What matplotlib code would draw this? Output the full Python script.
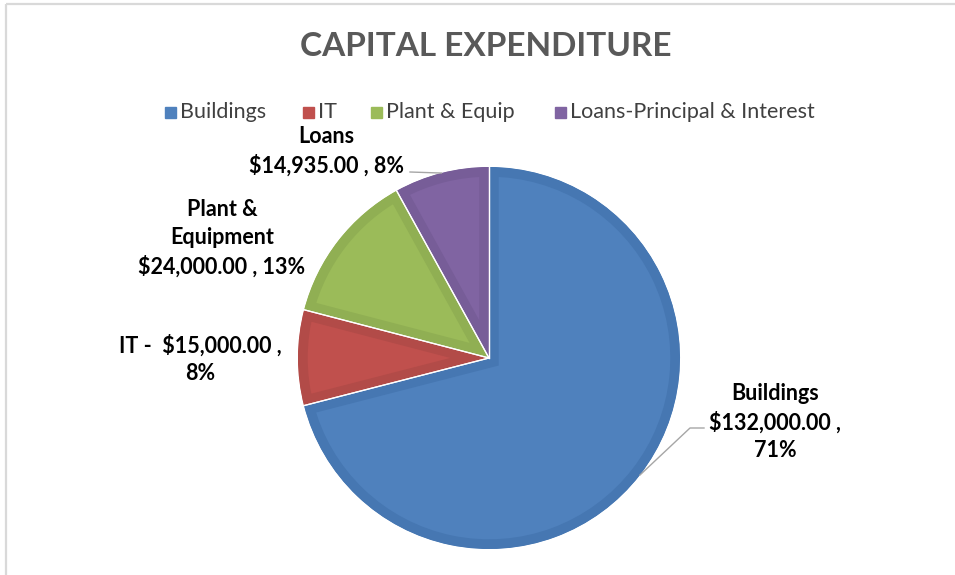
import numpy as np
import matplotlib
matplotlib.use('Agg')
from matplotlib import pyplot as plt
from matplotlib.patches import Rectangle

categories = ['Buildings', 'IT', 'Plant & Equip', 'Loans-Principal & Interest']
values = [132000.00, 15000.00, 24000.00, 14935.00]
percents = ['71%', '8%', '13%', '8%']
face_colors = ['#4F81BD', '#C0504D', '#9BBB59', '#8064A2']
edge_colors = ['#4677B2', '#B24B48', '#90AF53', '#775D98']

plt.rcParams['font.family'] = ['Lato', 'DejaVu Sans']

W, H = 955, 575
fig = plt.figure(figsize=(W / 100, H / 100), dpi=100)
ax = fig.add_axes([0, 0, 1, 1])

cx, cy, r = 489, H - 358, 191
wedges, _ = ax.pie(values, colors=face_colors, startangle=90, counterclock=False,
                   center=(cx, cy), radius=r, frame=True)
ax.set_xlim(0, W)
ax.set_ylim(0, H)
ax.set_aspect('equal')
ax.axis('off')

# darker inner rim on each slice: stroke clipped to the slice itself
for w, ec in zip(wedges, edge_colors):
    w.set_edgecolor(ec)
    w.set_linewidth(14)
    w.set_joinstyle('miter')
    w.set_clip_path(w)
    w.set_clip_on(True)

# thin white gaps between slices
for w in wedges:
    for ang in (w.theta1, w.theta2):
        a = np.deg2rad(ang)
        ax.plot([cx, cx + r * np.cos(a)], [cy, cy + r * np.sin(a)],
                color='white', lw=0.9, zorder=3)

# light gray chart frame (top and left only visible)
ax.plot([6, W], [H - 4, H - 4], color='#D9D9D9', lw=1.6, solid_capstyle='butt', clip_on=False)
ax.plot([6, 6], [0, H - 4], color='#D9D9D9', lw=1.6, solid_capstyle='butt', clip_on=False)

ax.text(486, H - 47, 'CAPITAL EXPENDITURE', ha='center', va='center',
        fontsize=24, fontweight='bold', color='#595959')

# legend
leg_x = [165, 303, 371, 555]
for x, c, name in zip(leg_x, face_colors, categories):
    ax.add_patch(Rectangle((x, H - 118), 11, 11, color=c))
    ax.text(x + 15, H - 112, name, ha='left', va='center', fontsize=15.5,
            color='#404040')

lab_kw = dict(ha='center', va='center', fontsize=15.5, fontweight='bold',
              color='black', linespacing=1.4)
ax.text(775, H - 422, 'Buildings\n$%s ,\n%s' % (f'{values[0]:,.2f}', percents[0]), **lab_kw)
ax.text(200, H - 359, 'IT -  $%s ,\n%s' % (f'{values[1]:,.2f}', percents[1]), **lab_kw)
ax.text(222, H - 238, 'Plant &\nEquipment\n$%s , %s' % (f'{values[2]:,.2f}', percents[2]), **lab_kw)
ax.text(326, H - 151, 'Loans\n$%s , %s' % (f'{values[3]:,.2f}', percents[3]), **lab_kw)

# leader lines to the middle of the slice edge
def edge_point(w, frac=0.5):
    a = np.deg2rad(w.theta1 + (w.theta2 - w.theta1) * frac)
    return cx + r * np.cos(a), cy + r * np.sin(a)

bx, by = edge_point(wedges[0])
ax.plot([704, 690, bx], [H - 428, H - 428, by], color='#A6A6A6', lw=1, zorder=4)
lx, ly = edge_point(wedges[3])
ax.plot([410, lx], [H - 172, ly], color='#A6A6A6', lw=1, zorder=4)

fig.savefig('out.png', dpi=100)
